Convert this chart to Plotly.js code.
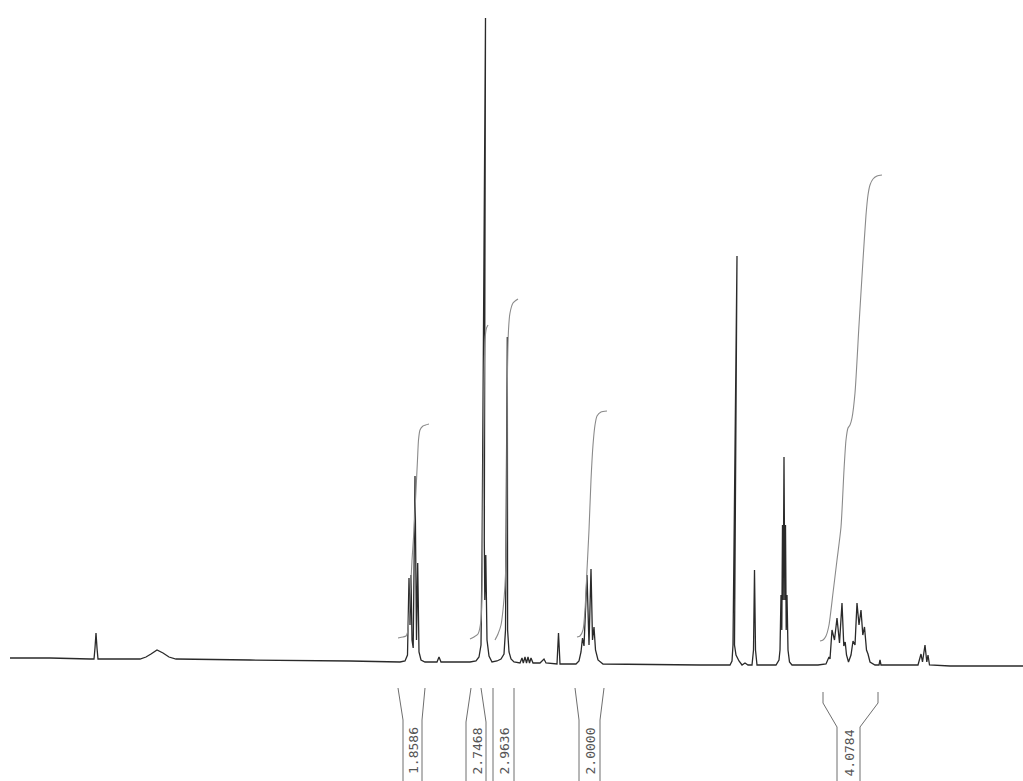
<!DOCTYPE html>
<html>
<head>
<meta charset="utf-8">
<script src="https://cdn.plot.ly/plotly-3.0.1.min.js"></script>
<style>html,body{margin:0;padding:0;background:#fff;}#chart{width:1023px;height:781px;}</style>
</head>
<body>
<div id="chart"></div>
<script>
// Spectrum trace (position, intensity)
const specX = [10,50,90,94,95,96,97,98,140,146,151,157,163,169,176,250,350,400,405,407.5,409,410,411,412,413.2,415,416.5,417.7,419,421,425,437,439,441,470,476,479,481,482,485.5,484.3,484.8,485.8,487,489,492,497,501,504,505.5,507.3,507.6,509,511,514,520,522,523.3,525,526.5,528,529.5,531,533,540,544,546,557,558.5,560,576,579,581,582.5,584,587,589,591,592.5,594,595.5,598,603,700,730,732,733,737,734.5,736,739,742,745,748,752,753.5,754.5,755.5,757,776,779,780,781,781.8,782.5,783.2,784,784.8,785.5,786.2,787,788,789.5,792,818,826,829,830,832,834.5,837,839.5,842,843.8,845.2,846.5,848.5,851,853,855,857,859,861,862.8,864.5,866.5,868,870,875,879,880,881,918,921,922.5,925,926.8,928,929.5,950,1023];
const specI = [7,7,6,6,17,32,17,6,6,8,11,15,12,8,6,5,4,3,4,10,87,40,90,25,17,189,25,102,13,5,3,3,8,3,3,4,8,20,105,647,125,65,110,25,9,3,4,6,11,35,328,35,13,6,3,2,7,2,8,2,8,2,7,2,2,6,2,1,32,1,1,4,13,27,19,90,20,96,25,38,15,5,1,0,0,4,20,409,20,10,4,0,2,0,0,15,95,15,0,0,5,15,70,35,140,65,208,65,140,35,70,15,3,0,0,1,8,6,35,25,47,22,62,19,23,10,3,10,24,20,62,40,55,30,38,15,11,3,0,0,5,0,0,11,3,20,3,10,0,-1,-1];

// Integral curves
const int1X = [398,403,406,408,410,412,414,416,417.5,418.5,420,423,429];
const int1I = [27,28,29,35,65,105,135,175,205,225,235,239,241];
const int2X = [470,474,478,481,483,484,485,486.5,488];
const int2I = [26,28,31,45,165,265,325,337,340];
const int3X = [495,498,501,503,505,506.5,507,507.5,508.5,510,513,518];
const int3I = [25,31,40,55,80,125,215,295,335,352,362,366];
const int4X = [577,580,583,585,587,589,591,593,595,597,601,607];
const int4I = [28,29,35,55,95,135,185,220,240,249,253,254];
const int5X = [820,823,826,829,833,837,841,844,846,848,850,852,855,859,863,866,868,870,873,877,882];
const int5I = [24,25,29,40,72,105,138,195,225,237,240,247,272,340,405,450,470,480,486,489,490];

// Integral value labels and their bracket outlines
const integralLabels = ['1.8586','2.7468','2.9636','2.0000','4.0784'];
const labelX = [413,476.5,503.5,589.5,848.5];
const labelI = [-86,-86,-86,-86,-88];
const bracketLeftX  = [[398,403,403],[471,466,466],[493,493,493],[575,579,579],[823,823,837,837]];
const bracketLeftI  = [[-23,-55,-116],[-23,-57,-116],[-23,-55,-116],[-23,-55,-116],[-27,-38,-62,-116]];
const bracketRightX = [[425,422,422],[481,486,486],[514,514,514],[604,600,600],[878,878,860,860]];
const bracketRightI = [[-23,-55,-116],[-23,-57,-116],[-23,-55,-116],[-23,-55,-116],[-27,-38,-62,-116]];

const traces = [];
traces.push({x: specX, y: specI, type: 'scatter', mode: 'lines',
  line: {color: '#2a2a2a', width: 1.3, simplify: false}, hoverinfo: 'skip'});
const ints = [[int1X,int1I],[int2X,int2I],[int3X,int3I],[int4X,int4I],[int5X,int5I]];
ints.forEach(function(p){
  traces.push({x: p[0], y: p[1], type: 'scatter', mode: 'lines',
    line: {color: '#8a8a8a', width: 1.1, shape: 'spline', smoothing: 0.6, simplify: false}, hoverinfo: 'skip'});
});
for (let i = 0; i < integralLabels.length; i++) {
  traces.push({x: bracketLeftX[i], y: bracketLeftI[i], type: 'scatter', mode: 'lines',
    line: {color: '#6e6e6e', width: 1}, hoverinfo: 'skip'});
  traces.push({x: bracketRightX[i], y: bracketRightI[i], type: 'scatter', mode: 'lines',
    line: {color: '#6e6e6e', width: 1}, hoverinfo: 'skip'});
}

const annotations = integralLabels.map(function(t, i){
  return {x: labelX[i], y: labelI[i], xref: 'x', yref: 'y', text: t, showarrow: false,
    textangle: -90, xanchor: 'center', yanchor: 'middle',
    font: {family: 'DejaVu Sans Mono', size: 13, color: '#555'}};
});

const layout = {
  width: 1023, height: 781,
  margin: {l: 0, r: 0, t: 0, b: 0, pad: 0},
  paper_bgcolor: '#fff', plot_bgcolor: '#fff',
  showlegend: false,
  xaxis: {range: [0, 1023], visible: false, fixedrange: true},
  yaxis: {range: [-116, 665], visible: false, fixedrange: true},
  annotations: annotations
};
Plotly.newPlot('chart', traces, layout, {displayModeBar: false, staticPlot: true});
</script>
</body>
</html>
